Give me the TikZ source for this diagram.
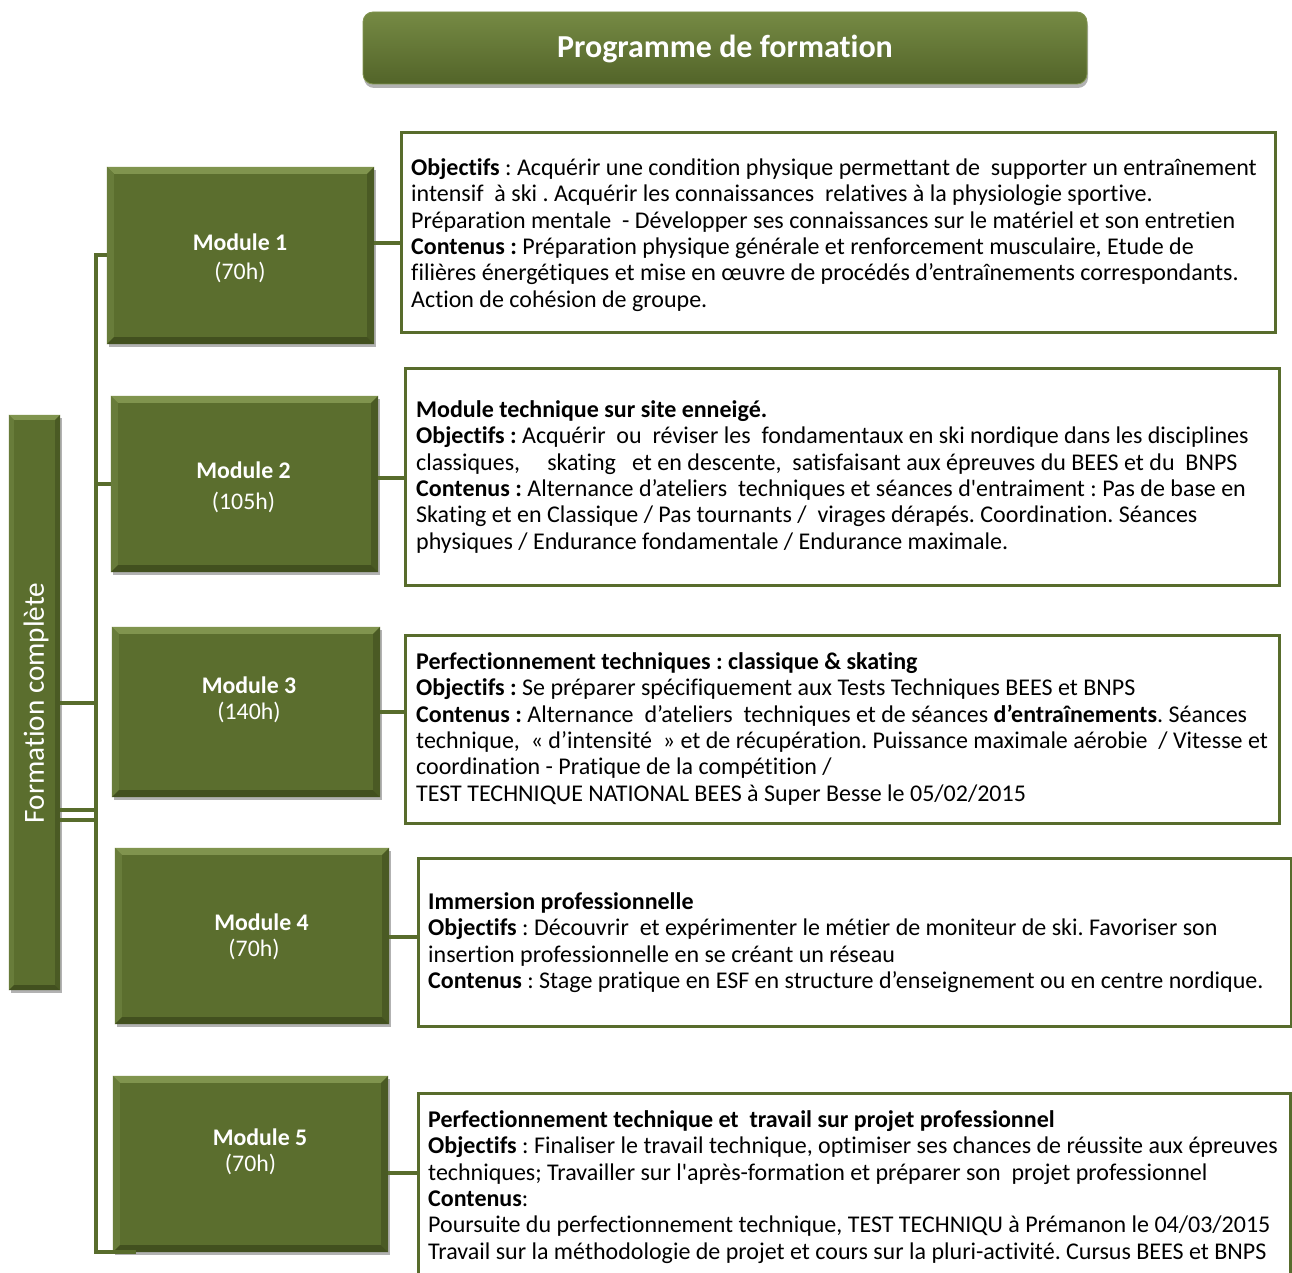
\documentclass[tikz,border=0pt]{standalone}
\usepackage{fontspec}
\setmainfont{Carlito}[Ligatures={TeX,NoCommon}]
\usetikzlibrary{shadows}
\definecolor{gmain}{RGB}{91,110,46}
\definecolor{gtopc}{RGB}{128,148,78}
\definecolor{gleftc}{RGB}{104,124,58}
\definecolor{grightc}{RGB}{74,90,36}
\definecolor{gbotc}{RGB}{66,80,31}
\definecolor{gline}{RGB}{88,108,44}
\definecolor{ttop}{RGB}{118,138,68}
\definecolor{tbot}{RGB}{82,100,41}
\newcommand\bevelit[2]{%
  \fill[gtopc] (#1.north west) -- (#1.north east) -- ([xshift=-#2,yshift=-#2]#1.north east) -- ([xshift=#2,yshift=-#2]#1.north west) -- cycle;
  \fill[gleftc] (#1.north west) -- ([xshift=#2,yshift=-#2]#1.north west) -- ([xshift=#2,yshift=#2]#1.south west) -- (#1.south west) -- cycle;
  \fill[grightc] (#1.north east) -- (#1.south east) -- ([xshift=-#2,yshift=#2]#1.south east) -- ([xshift=-#2,yshift=-#2]#1.north east) -- cycle;
  \fill[gbotc] (#1.south west) -- ([xshift=#2,yshift=#2]#1.south west) -- ([xshift=-#2,yshift=#2]#1.south east) -- (#1.south east) -- cycle;
}
\frenchspacing
\begin{document}
\begin{tikzpicture}[x=1pt,y=-1pt,
  modbox/.style={rectangle, fill=gmain, draw=none, inner sep=0pt,
    drop shadow={shadow xshift=2pt,shadow yshift=-3pt,opacity=0.3,fill=black}},
  txtbox/.style={rectangle, draw=gline, line width=3pt, fill=white, inner sep=0pt},
  conn/.style={draw=gline, line width=4pt},
  body/.style={anchor=north west, align=left, inner sep=0pt, text=black,
    font=\fontsize{24}{26.4}\selectfont\frenchspacing},
  modlbl/.style={anchor=base, inner sep=0pt, text=white, font=\fontsize{23.8}{26}\selectfont},
  modlblb/.style={modlbl, font=\fontsize{23.8}{26}\selectfont\bfseries},
]
\useasboundingbox (0,0) rectangle (1292,1273);
\fill[white] (0,0) rectangle (1292,1273);

% title
\node[rectangle, rounded corners=10pt, top color=ttop, bottom color=tbot, draw=gtopc, line width=0.8pt,
  minimum width=724pt, minimum height=72pt, inner sep=0pt,
  drop shadow={shadow xshift=1pt,shadow yshift=-4pt,opacity=0.3,fill=black}] (title) at (725,48) {};
\node[anchor=base, inner sep=0pt, text=white, font=\fontsize{32}{36}\selectfont\bfseries] (titletxt) at (725,58) {Programme de formation};

% left bar
\node[modbox, minimum width=51pt, minimum height=575pt] (bar) at (34.5,702.5) {};
\bevelit{bar}{5pt}
\node[rotate=90, inner sep=0pt, text=white, font=\fontsize{29.2}{32}\selectfont] (bartxt) at (36,703) {Formation complète};

% module boxes
\node[modbox, minimum width=267pt, minimum height=177pt] (m1) at (240.5,255.5) {};
\node[modbox, minimum width=267pt, minimum height=176pt] (m2) at (244.5,484) {};
\node[modbox, minimum width=268pt, minimum height=170pt] (m3) at (246,712) {};
\node[modbox, minimum width=274pt, minimum height=176pt] (m4) at (252,936) {};
\node[modbox, minimum width=275pt, minimum height=176pt] (m5) at (250.5,1164) {};
\bevelit{m1}{7pt}
\bevelit{m2}{7pt}
\bevelit{m3}{7pt}
\bevelit{m4}{7pt}
\bevelit{m5}{7pt}

\node[modlblb] (l1a) at (240,250.5) {Module 1};
\node[modlbl] (l1b) at (240,279.5) {(70h)};
\node[modlblb] (l2a) at (243.5,478.5) {Module 2};
\node[modlbl] (l2b) at (243.5,509.5) {(105h)};
\node[modlblb] (l3a) at (249,693.5) {Module 3};
\node[modlbl] (l3b) at (249,719.5) {(140h)};
\node[modlblb] (l4a) at (261.5,930.5) {Module 4};
\node[modlbl] (l4b) at (254,956.5) {(70h)};
\node[modlblb] (l5a) at (260,1145.5) {Module 5};
\node[modlbl] (l5b) at (250.5,1171.5) {(70h)};

% text boxes
\node[txtbox, minimum width=874pt, minimum height=199pt] (t1) at (838,232.5) {};
\node[txtbox, minimum width=874pt, minimum height=217pt] (t2) at (842,476.5) {};
\node[txtbox, minimum width=874pt, minimum height=188pt] (t3) at (842,729) {};
\node[txtbox, minimum width=873pt, minimum height=168pt] (t4) at (854.5,942) {};
\node[txtbox, minimum width=872pt, minimum height=198pt] (t5) at (854,1192) {};

\node[body] (t1txt) at (411,156) {\rule{0pt}{19pt}\textbf{Objectifs} : Acquérir une condition physique permettant de\ \ supporter un entraînement\\
intensif\ \ à ski . Acquérir les connaissances\ \ relatives à la physiologie sportive.\\
Préparation mentale\ \ - Développer ses connaissances sur le matériel et son entretien\\
\textbf{Contenus :} Préparation physique générale et renforcement musculaire, Etude de\\
filières énergétiques et mise en œuvre de procédés d’entraînements correspondants.\\
Action de cohésion de groupe.};

\node[body] (t2txt) at (416,398) {\rule{0pt}{19pt}\textbf{Module technique sur site enneigé.}\\
\textbf{Objectifs :} Acquérir\ \ ou\ \ réviser les\ \ fondamentaux en ski nordique dans les disciplines\\
classiques,\ \ \ \ \ skating\ \ \ et en descente,\ \ satisfaisant aux épreuves du BEES et du\ \ BNPS\\
\textbf{Contenus :} Alternance d’ateliers\ \ techniques et séances d\textquotesingle entraiment : Pas de base en\\
Skating et en Classique / Pas tournants /\ \ virages dérapés. Coordination. Séances\\
physiques / Endurance fondamentale / Endurance maximale.};

\node[body] (t3txt) at (416,650) {\rule{0pt}{19pt}\textbf{Perfectionnement techniques : classique \& skating}\\
\textbf{Objectifs :} Se préparer spécifiquement aux Tests Techniques BEES et BNPS\\
\textbf{Contenus :} Alternance\ \ d’ateliers\ \ techniques et de séances \textbf{d’entraînements}. Séances\\
technique,\ \ « d’intensité\ \ » et de récupération. Puissance maximale aérobie\ \ / Vitesse et\\
coordination - Pratique de la compétition /\\
TEST TECHNIQUE NATIONAL BEES à Super Besse le 05/02/2015};

\node[body] (t4txt) at (428,890) {\rule{0pt}{19pt}\textbf{Immersion professionnelle}\\
\textbf{Objectifs} : Découvrir\ \ et expérimenter le métier de moniteur de ski. Favoriser son\\
insertion professionnelle en se créant un réseau\\
\textbf{Contenus} : Stage pratique en ESF en structure d’enseignement ou en centre nordique.};

\node[body] (t5txt) at (428,1108) {\rule{0pt}{19pt}\textbf{Perfectionnement technique et\ \ travail sur projet professionnel}\\
\textbf{Objectifs} : Finaliser le travail technique, optimiser ses chances de réussite aux épreuves\\
techniques; Travailler sur l\textquotesingle après-formation et préparer son\ \ projet professionnel\\
\textbf{Contenus}:\\
Poursuite du perfectionnement technique, TEST TECHNIQU à Prémanon le 04/03/2015\\
Travail sur la méthodologie de projet et cours sur la pluri-activité. Cursus BEES et BNPS};

% connectors: trunk
\coordinate (jtop) at (96,255);
\coordinate (jbot) at (96,1252);
\coordinate (jend) at (136,1252);
\coordinate (ja) at (96,703);
\coordinate (jb) at (96,810);
\coordinate (jc) at (96,819.5);
\draw[conn] (m1.west) -- (m1.west -| jtop) -- (jbot) -- (jend);
\draw[conn] (m2.west) -- (m2.west -| jtop);
\draw[conn] (bar.east |- ja) -- (ja);
\draw[conn] (bar.east |- jb) -- (jb);
\draw[conn] (bar.east |- jc) -- (jc);

% module to text connectors
\coordinate (c1) at (390,243);
\coordinate (c2) at (390,478);
\coordinate (c3) at (390,712);
\coordinate (c4) at (400,937);
\coordinate (c5) at (400,1173);
\draw[conn] (m1.east |- c1) -- (t1.west |- c1);
\draw[conn] (m2.east |- c2) -- (t2.west |- c2);
\draw[conn] (m3.east |- c3) -- (t3.west |- c3);
\draw[conn] (m4.east |- c4) -- (t4.west |- c4);
\draw[conn] (m5.east |- c5) -- (t5.west |- c5);
\end{tikzpicture}
\end{document}
